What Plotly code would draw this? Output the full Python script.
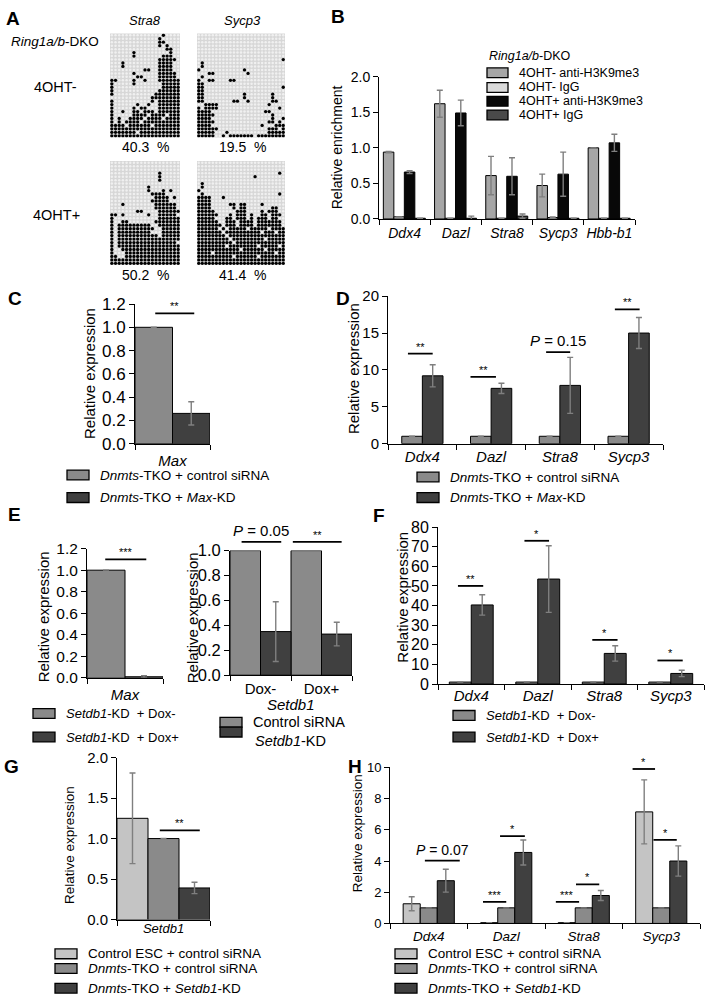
import plotly.graph_objects as go

W, H = 706, 1008
FONT = "Liberation Sans, Arial, Helvetica, sans-serif"


def X(px):
    return px / W


def Y(py):
    return 1 - py / H


# ---------------- Panel A : methylation dot grids ----------------
a_genes = ["Stra8", "Sycp3"]
a_conditions = ["4OHT-", "4OHT+"]
a_percent = ["40.3  %", "19.5  %", "50.2  %", "41.4  %"]

stra8_ohtm = [
    "0000000000000010000", "0000000000000100000", "0000000000000110000",
    "0000000000000101000", "0000000000000001100", "0000001000000000100",
    "0000001000000011100", "0000000000000111110", "0001000000000111100",
    "0001000000000111100", "0000000001100111100", "0000001000000111110",
    "0000000110000111110", "1100001001000111111", "1000001000000011111",
    "1000000000000011111", "1000000000000111111", "1000000000001111111",
    "0000000000011111111", "1000000000010111111", "1000000100100111111",
    "1000001011000111111", "1001001101110111111", "1000001111011110111",
    "1010011110111101111", "1010111101111111111", "1111011111101111111",
    "1111111111111111111", "1111111011111111111", "1111111111111111111",
]
sycp3_ohtm = [
    "0000000000000000000000000", "0000000000000000000000000",
    "0000000000000000000000000", "0000000000000000000000000",
    "0000000000000000000000000", "0000000000000000000000000",
    "0000000000000000000000000", "0000000000000000000000001",
    "0100000000000000000000000", "0100000000000000000000000",
    "1000000000000100000000000", "0001100000000010000000000",
    "0100000000000000000000000", "1001100001100000000000000",
    "1100000000000000000000000", "1100000000000000000000001",
    "1100000000000000000000000", "1100000000000100000001000",
    "1100000000000100000001000", "1100000000110010000001100",
    "0011110000000000000010000", "1011110000000000000000010",
    "1111000000000000000110000", "1111100000000000000001000",
    "1111000000000000000001001", "1111100000000000000011010",
    "1111000000000000001000111", "1111110000000000000011101",
    "1111100010000000000011111", "1111100101111111011111111",
]
stra8_ohtp = [
    "0000000000000000000", "0000000000000000000", "0000000000000000000",
    "0000000000000100000", "0000000000000100000", "0000000000000100000",
    "0000000000000000000", "0000000000100000000", "0000000000100010100",
    "0000000000011110000", "0000000000001111010", "0000000000011111000",
    "0001000000001111110", "0000000000001111110", "0000000110000111111",
    "1101000000100111110", "1000000000000111111", "1001100000001111111",
    "1011111111100111111", "1011111111110011111", "1011111111100011111",
    "1011111111111011111", "1011111111111111111", "1011111111111111110",
    "1011111111111111111", "1001111111111111111", "1000111111111111111",
    "1100111111111111111", "1111111111111111111", "1111111111111111111",
]
sycp3_ohtp = [
    "0000000000000000000000000", "0000000000000000000000000",
    "0000000000000000000000000", "0000000000000000000000010",
    "0000000000000000100000000", "0000000000000000000000000",
    "0100000000000000000000000", "0100000000000000000000000",
    "1000000000000000000000000", "0100000000000000000000010",
    "1111000100000000000000000", "1111000000000000000000000",
    "1111000001101100001000000", "1111000000101100000001100",
    "1111100000011100001011100", "1111110001011101001101110",
    "1111100011011101011101100", "1111110011101111011111110",
    "1111111011101111011111110", "1111110101111101111101111",
    "1111111011111111110111011", "1111111101111111111111111",
    "1111111110111111111011111", "1111111111011111111111111",
    "1111111101111111101111101", "1111111111110111111011111",
    "1111011111111111111111011", "1111111111011111101111111",
    "1111111111111111111111111", "1111111111111111111111111",
]

# ---------------- Panel B ----------------
b_genes = ["Ddx4", "Dazl", "Stra8", "Sycp3", "Hbb-b1"]
b_legend = ["4OHT- anti-H3K9me3", "4OHT- IgG", "4OHT+ anti-H3K9me3", "4OHT+ IgG"]
b_m_h3 = [0.94, 1.62, 0.61, 0.47, 1.00]
b_m_h3_err = [0.01, 0.19, 0.27, 0.16, 0.0]
b_m_igg = [0.03, 0.01, 0.01, 0.02, 0.01]
b_m_igg_err = [0.0, 0.0, 0.0, 0.01, 0.0]
b_p_h3 = [0.66, 1.49, 0.60, 0.63, 1.07]
b_p_h3_err = [0.02, 0.18, 0.26, 0.31, 0.12]
b_p_igg = [0.01, 0.01, 0.04, 0.01, 0.01]
b_p_igg_err = [0.0, 0.03, 0.03, 0.0, 0.0]

# ---------------- Panel C ----------------
c_genes = ["Max"]
c_ctrl = [1.0]
c_ctrl_err = [0.0]
c_kd = [0.26]
c_kd_err = [0.10]

# ---------------- Panel D ----------------
d_genes = ["Ddx4", "Dazl", "Stra8", "Sycp3"]
d_ctrl = [1.0, 1.0, 1.0, 1.0]
d_ctrl_err = [0.0, 0.0, 0.0, 0.0]
d_kd = [9.2, 7.5, 7.9, 15.0]
d_kd_err = [1.5, 0.7, 3.8, 2.1]

# ---------------- Panel E ----------------
e1_genes = ["Max"]
e1_dm = [1.0]
e1_dm_err = [0.0]
e1_dp = [0.01]
e1_dp_err = [0.01]
e2_groups = ["Dox-", "Dox+"]
e2_ctrl = [1.0, 1.0]
e2_ctrl_err = [0.0, 0.0]
e2_kd = [0.35, 0.33]
e2_kd_err = [0.24, 0.095]

# ---------------- Panel F ----------------
f_genes = ["Ddx4", "Dazl", "Stra8", "Sycp3"]
f_dm = [1.0, 1.0, 1.0, 1.0]
f_dm_err = [0.0, 0.0, 0.0, 0.0]
f_dp = [40.3, 53.5, 15.6, 5.4]
f_dp_err = [5.2, 17.0, 3.9, 1.6]

# ---------------- Panel G ----------------
g_genes = ["Setdb1"]
g_esc = [1.25]
g_esc_err = [0.56]
g_tko = [1.0]
g_tko_err = [0.0]
g_kd = [0.39]
g_kd_err = [0.07]

# ---------------- Panel H ----------------
h_genes = ["Ddx4", "Dazl", "Stra8", "Sycp3"]
h_esc = [1.26, 0.05, 0.05, 7.15]
h_esc_err = [0.45, 0.0, 0.0, 2.05]
h_tko = [1.0, 1.0, 1.0, 1.0]
h_tko_err = [0.0, 0.0, 0.0, 0.0]
h_kd = [2.74, 4.55, 1.79, 4.0]
h_kd_err = [0.73, 0.8, 0.32, 0.97]

# significance marks: (category, left, right, height, label)
c_sig = [(0, -0.23, 0.29, 1.12, "**")]
d_sig = [(0, -0.21, 0.15, 12.2, "**"), (1, -0.3, 0.07, 9.05, "**"),
         (2, -0.2, 0.15, 12.4, "<i>P</i> = 0.15"), (3, -0.2, 0.16, 18.2, "**")]
e1_sig = [(0, -0.26, 0.28, 1.10, "***")]
e2_sig = [(0, -0.31, 0.34, 1.07, "<i>P</i> = 0.05"), (1, -0.47, 0.33, 1.07, "**")]
f_sig = [(0, -0.2, 0.18, 50, "**"), (1, -0.2, 0.17, 73, "*"),
         (2, -0.18, 0.2, 22.5, "*"), (3, -0.2, 0.18, 12, "*")]
g_sig = [(0, -0.04, 0.39, 1.10, "**")]
h_sig = [(0, -0.05, 0.40, 4.03, "<i>P</i> = 0.07"),
         (1, -0.30, 0.0, 1.38, "***"), (1, -0.08, 0.24, 5.6, "*"),
         (2, -0.36, -0.06, 1.38, "***"), (2, -0.1, 0.2, 2.5, "*"),
         (3, -0.37, -0.08, 9.9, "*"), (3, -0.1, 0.2, 5.35, "*")]

# colours
C_LIGHT = "#c4c4c4"
C_GRAY = "#8a8a8a"
C_DARK = "#404040"
B_COLS = ["#a6a6a6", "#dadada", "#080808", "#4a4a4a"]
ERR_COL = "#7f7f7f"

layout = dict(
    width=W, height=H, margin=dict(l=0, r=0, t=0, b=0),
    paper_bgcolor="white", plot_bgcolor="white", showlegend=False,
    font=dict(family=FONT, color="black", size=13), barmode="overlay",
)
traces, shapes, annotations = [], [], []


def axname(letter, n):
    return f"{letter}axis" if n == 1 else f"{letter}axis{n}"


def axid(letter, n):
    return letter if n == 1 else f"{letter}{n}"


def text(px, py, s, size=13, xanchor="center", bold=False, **kw):
    if bold:
        s = f"<b>{s}</b>"
    annotations.append(dict(xref="paper", yref="paper", x=X(px), y=Y(py), text=s,
                            showarrow=False, xanchor=xanchor, yanchor="middle",
                            font=dict(size=size), **kw))


# ---------- Panel A ----------
def grid_panel(n, grid, x0, x1, y0, y1):
    nrow, ncol = len(grid), len(grid[0])
    layout[axname("x", n)] = dict(domain=[X(x0), X(x1)], range=[-0.5, ncol - 0.5],
                                  visible=False, fixedrange=True, anchor=axid("y", n))
    layout[axname("y", n)] = dict(domain=[Y(y1), Y(y0)], range=[nrow - 0.5, -0.5],
                                  visible=False, fixedrange=True, anchor=axid("x", n))
    shapes.append(dict(type="rect", xref=f"{axid('x', n)} domain", yref=f"{axid('y', n)} domain",
                       x0=0, x1=1, y0=0, y1=1, fillcolor="#d7d7d7", line=dict(width=0),
                       layer="below"))
    ox, oy, fx, fy = [], [], [], []
    for r, row in enumerate(grid):
        for c, ch in enumerate(row):
            if ch == "1":
                fx.append(c)
                fy.append(r)
            else:
                ox.append(c)
                oy.append(r)
    traces.append(go.Scatter(x=ox, y=oy, mode="markers", xaxis=axid("x", n), yaxis=axid("y", n),
                             marker=dict(size=2.5, color="#f0f0f0", line=dict(width=0)),
                             hoverinfo="skip"))
    traces.append(go.Scatter(x=fx, y=fy, mode="markers", xaxis=axid("x", n), yaxis=axid("y", n),
                             marker=dict(size=3.3, color="black", line=dict(width=0)),
                             hoverinfo="skip"))


grid_panel(1, stra8_ohtm, 110, 180, 25, 131)
grid_panel(2, sycp3_ohtm, 197, 285, 25, 131)
grid_panel(3, stra8_ohtp, 110, 180, 155, 261)
grid_panel(4, sycp3_ohtp, 197, 285, 155, 261)
text(13, 10, "A", size=19, bold=True)
text(145, 12, f"<i>{a_genes[0]}</i>", size=13)
text(242, 12, f"<i>{a_genes[1]}</i>", size=13)
text(55, 33, "<i>Ring1a/b</i>-DKO", size=13.5)
text(55, 80, a_conditions[0], size=14.5)
text(56, 210, a_conditions[1], size=14.5)
text(145, 141, a_percent[0], size=14)
text(242, 141, a_percent[1], size=14)
text(145, 271, a_percent[2], size=14)
text(242, 271, a_percent[3], size=14)


# ---------- bar panels ----------
def bar_panel(n, x0, x1, ytop, ybot, ymax, yticks, yfmt, ysize, cats, catsize,
              cat_need, italic=True):
    ncat = len(cats)
    tt = [f"<i>{c}</i>" if italic else c for c in cats]
    layout[axname("x", n)] = dict(
        domain=[X(x0), X(x1)], range=[-0.5, ncat - 0.5], anchor=axid("y", n),
        showline=True, linecolor="black", linewidth=1, ticks="", tickmode="array",
        tickvals=list(range(ncat)), ticktext=tt, tickfont=dict(size=catsize),
        ticklabelstandoff=int(round(cat_need - 7 - catsize * 0.6)),
        showgrid=False, zeroline=False, fixedrange=True,
        minor=dict(ticks="outside", tickmode="array",
                   tickvals=[i - 0.5 for i in range(ncat + 1)], ticklen=5,
                   tickwidth=1, tickcolor="black", showgrid=False))
    layout[axname("y", n)] = dict(
        domain=[Y(ybot), Y(ytop)], range=[0, ymax], anchor=axid("x", n),
        showline=True, linecolor="black", linewidth=1, ticks="outside", ticklen=5,
        tickwidth=1, tickcolor="black", tickmode="array", tickvals=yticks,
        tickformat=yfmt, tickfont=dict(size=ysize), showgrid=False, zeroline=False,
        fixedrange=True)


def bars(n, vals, errs, color, offset, width):
    traces.append(go.Bar(
        x=list(range(len(vals))), y=vals, xaxis=axid("x", n), yaxis=axid("y", n),
        offset=offset, width=width,
        marker=dict(color=color, line=dict(color="black", width=1)),
        error_y=dict(type="data", array=errs, visible=True, color=ERR_COL,
                     thickness=1.4, width=3),
        hoverinfo="skip"))


def sigs(n, ymax, items, star_size=11, p_size=15):
    for cat, l, r, h, lab in items:
        inside = h < ymax * 0.97
        yref = axid("y", n) if inside else f"{axid('y', n)} domain"
        yy = h if inside else h / ymax
        shapes.append(dict(type="line", xref=axid("x", n), yref=yref, x0=cat + l, x1=cat + r,
                           y0=yy, y1=yy, line=dict(color="black", width=1.8)))
        isp = "P" in lab
        annotations.append(dict(xref=axid("x", n), yref=yref, x=cat + (l + r) / 2, y=yy,
                                text=lab, showarrow=False, yanchor="bottom",
                                yshift=1 if isp else -1,
                                font=dict(size=p_size if isp else star_size)))


def ytitle(px, py, size, s="Relative expression"):
    annotations.append(dict(xref="paper", yref="paper", x=X(px), y=Y(py), text=s,
                            textangle=-90, showarrow=False, xanchor="center",
                            yanchor="middle", font=dict(size=size)))


def legend_item(xs, yc, color, s, size=13, w=22, h=10):
    shapes.append(dict(type="rect", xref="paper", yref="paper", x0=X(xs), x1=X(xs + w),
                       y0=Y(yc + h / 2), y1=Y(yc - h / 2), fillcolor=color,
                       line=dict(color="black", width=1.3)))
    if s:
        annotations.append(dict(xref="paper", yref="paper", x=X(xs + w + 9), y=Y(yc), text=s,
                                showarrow=False, xanchor="left", yanchor="middle",
                                font=dict(size=size)))


# Panel B
bar_panel(5, 379, 635, 69, 214, 2.0, [0, 0.5, 1.0, 1.5, 2.0], ".1f", 14, b_genes, 14, 16)
bw = 0.205
for k, (v, e) in enumerate([(b_m_h3, b_m_h3_err), (b_m_igg, b_m_igg_err),
                             (b_p_h3, b_p_h3_err), (b_p_igg, b_p_igg_err)]):
    bars(5, v, e, B_COLS[k], -0.415 + k * bw, bw)
text(338, 8, "B", size=19, bold=True)
ytitle(337, 141, 14, "Relative enrichment")
text(487, 48, "<i>Ring1a/b</i>-DKO", size=12.5, xanchor="left")
for k, (lab, yc) in enumerate(zip(b_legend, [65, 80, 94, 108])):
    legend_item(487, yc, B_COLS[k], lab, size=12.5, w=21, h=10)

# Panel C
bar_panel(6, 135, 210, 300.7, 443, 1.2, [0, 0.2, 0.4, 0.6, 0.8, 1.0, 1.2], ".1f", 17,
          c_genes, 15, 19)
bars(6, c_ctrl, c_ctrl_err, C_GRAY, -0.5, 0.5)
bars(6, c_kd, c_kd_err, C_DARK, 0.0, 0.5)
sigs(6, 1.2, c_sig)
text(15, 295, "C", size=19, bold=True)
ytitle(90, 372, 15)
legend_item(67, 475, C_GRAY, "<i>Dnmts</i>-TKO + control siRNA", size=13.5)
legend_item(67, 498, C_DARK, "<i>Dnmts</i>-TKO + <i>Max</i>-KD", size=13.5)

# Panel D
bar_panel(7, 388, 663, 292.7, 443, 20, [0, 5, 10, 15, 20], "d", 15, d_genes, 15, 15)
bars(7, d_ctrl, d_ctrl_err, C_GRAY, -0.3, 0.3)
bars(7, d_kd, d_kd_err, C_DARK, 0.0, 0.3)
sigs(7, 20, d_sig)
text(343, 295, "D", size=19, bold=True)
ytitle(353, 367, 15)
legend_item(417, 477, C_GRAY, "<i>Dnmts</i>-TKO + control siRNA", size=13.5)
legend_item(417, 498, C_DARK, "<i>Dnmts</i>-TKO + <i>Max</i>-KD", size=13.5)

# Panel E (left)
bar_panel(8, 87, 163, 550, 681.7, 1.2, [0, 0.2, 0.4, 0.6, 0.8, 1.0, 1.2], ".1f", 15.5,
          e1_genes, 15, 19)
bars(8, e1_dm, e1_dm_err, C_GRAY, -0.5, 0.5)
bars(8, e1_dp, e1_dp_err, C_DARK, 0.0, 0.5)
sigs(8, 1.2, e1_sig)
text(14, 515, "E", size=19, bold=True)
ytitle(43, 620, 15)
legend_item(33, 718, C_GRAY, "<i>Setdb1</i>-KD  + Dox-", size=13)
legend_item(33, 742, C_DARK, "<i>Setdb1</i>-KD  + Dox+", size=13)

# Panel E (right)
bar_panel(9, 230, 352, 552, 679, 1.0, [0, 0.2, 0.4, 0.6, 0.8, 1.0], ".1f", 16.5,
          e2_groups, 15, 16, italic=False)
bars(9, e2_ctrl, e2_ctrl_err, C_GRAY, -0.5, 0.5)
bars(9, e2_kd, e2_kd_err, C_DARK, 0.0, 0.5)
sigs(9, 1.0, e2_sig)
annotations.append(dict(xref="x9", yref="paper", x=0.5, y=Y(709), text="<i>Setdb1</i>",
                        showarrow=False, font=dict(size=15), yanchor="middle"))
ytitle(192, 621, 15)
legend_item(220, 727, C_GRAY, "Control siRNA", size=14.5, h=10)
legend_item(220, 737, C_DARK, "", size=14.5, h=10)
text(253, 746, "<i>Setdb1</i>-KD", size=14.5, xanchor="left")

# Panel F
bar_panel(10, 438, 704, 528, 688, 80, [0, 10, 20, 30, 40, 50, 60, 70, 80], "d", 16,
          f_genes, 15, 14)
bars(10, f_dm, f_dm_err, C_GRAY, -0.33, 0.33)
bars(10, f_dp, f_dp_err, C_DARK, 0.0, 0.33)
sigs(10, 80, f_sig)
text(379, 516, "F", size=19, bold=True)
ytitle(403, 600, 15)
legend_item(453, 720, C_GRAY, "<i>Setdb1</i>-KD  + Dox-", size=13)
legend_item(453, 742, C_DARK, "<i>Setdb1</i>-KD  + Dox+", size=13)

# Panel G
bar_panel(11, 117, 210, 763, 928, 2.0, [0, 0.5, 1.0, 1.5, 2.0], ".1f", 15, g_genes, 13, 12)
third = 1 / 3
bars(11, g_esc, g_esc_err, C_LIGHT, -0.5, third)
bars(11, g_tko, g_tko_err, C_GRAY, -0.5 + third, third)
bars(11, g_kd, g_kd_err, C_DARK, -0.5 + 2 * third, third)
sigs(11, 2.0, g_sig)
text(11, 772, "G", size=19, bold=True)
ytitle(70, 852, 13.5)
legend_item(55, 963, C_LIGHT, "Control ESC + control siRNA", size=13.5)
legend_item(55, 978, C_GRAY, "<i>Dnmts</i>-TKO + control siRNA", size=13.5)
legend_item(55, 998, C_DARK, "<i>Dnmts</i>-TKO + <i>Setdb1</i>-KD", size=13.5)

# Panel H
bar_panel(12, 390, 700, 773, 932, 10, [0, 2, 4, 6, 8, 10], "d", 13, h_genes, 13.5, 15)
hw = 0.22
bars(12, h_esc, h_esc_err, C_LIGHT, -0.33, hw)
bars(12, h_tko, h_tko_err, C_GRAY, -0.33 + hw, hw)
bars(12, h_kd, h_kd_err, C_DARK, -0.33 + 2 * hw, hw)
sigs(12, 10, h_sig, p_size=14)
text(355, 772, "H", size=19, bold=True)
ytitle(357, 840, 13.5)
legend_item(395, 963, C_LIGHT, "Control ESC + control siRNA", size=13.5)
legend_item(395, 978, C_GRAY, "<i>Dnmts</i>-TKO + control siRNA", size=13.5)
legend_item(395, 998, C_DARK, "<i>Dnmts</i>-TKO + <i>Setdb1</i>-KD", size=13.5)

layout["shapes"] = shapes
layout["annotations"] = annotations
fig = go.Figure(data=traces, layout=layout)
fig.write_html("out.html", config={"displayModeBar": False},
               post_script="document.body.style.margin='0';")
